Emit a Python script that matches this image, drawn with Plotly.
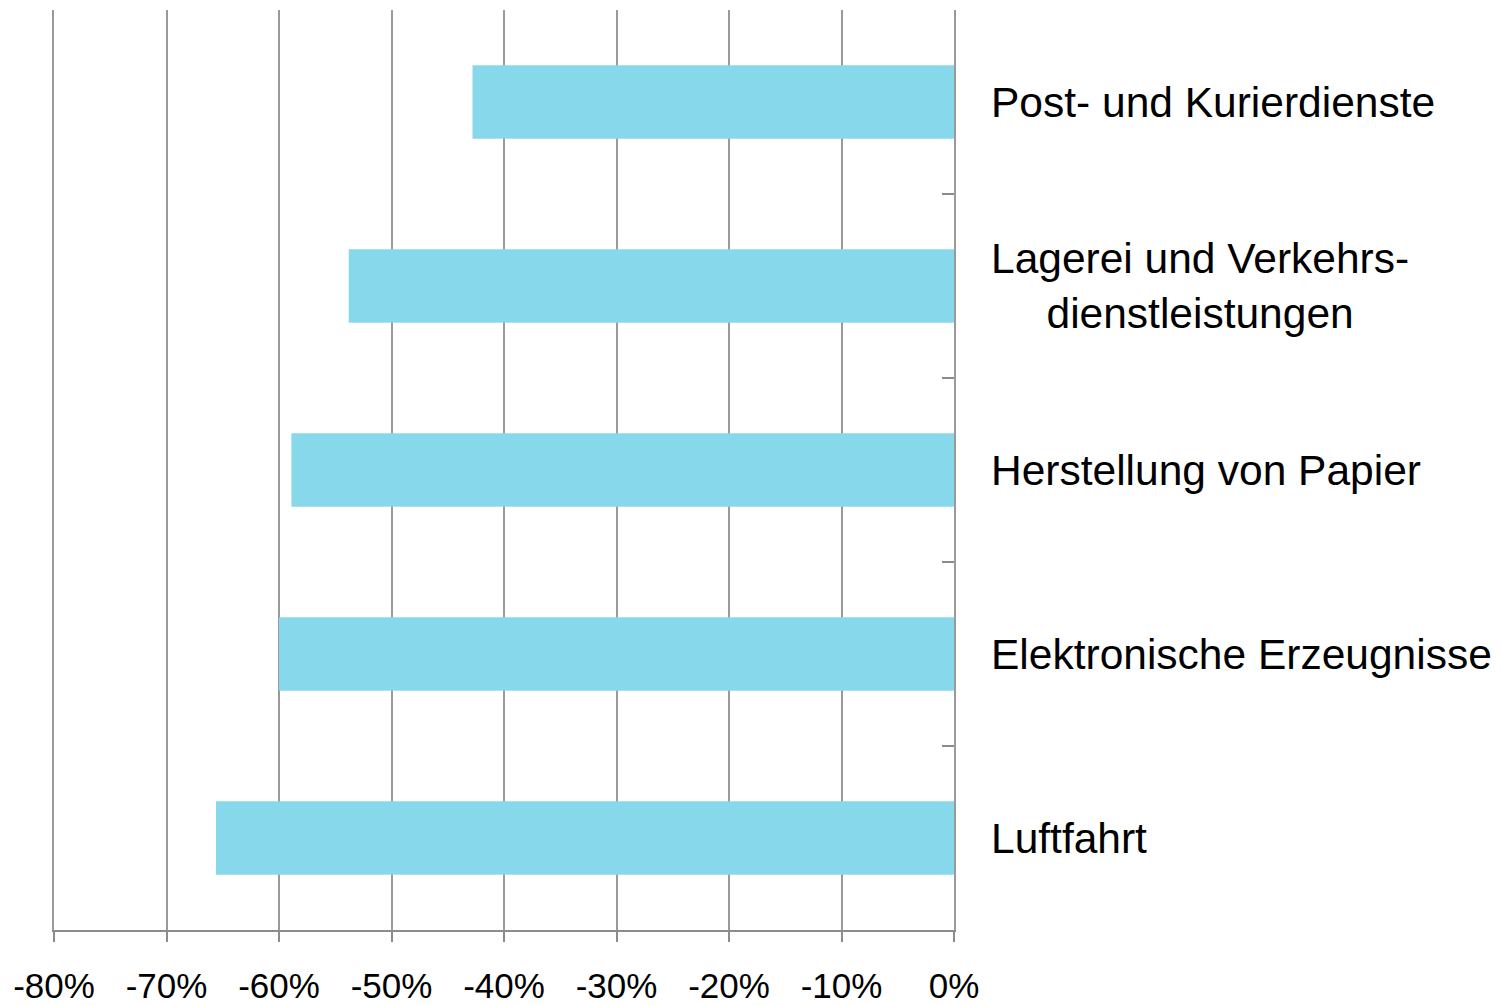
import plotly.graph_objects as go

categories = ["Post- und Kurierdienste", "Lagerei und Verkehrs-<br>dienstleistungen",
              "Herstellung von Papier", "Elektronische Erzeugnisse", "Luftfahrt"]
values = [-42.8, -53.8, -58.9, -60.0, -65.6]
x_ticks = [-80, -70, -60, -50, -40, -30, -20, -10, 0]
x_tick_labels = [f"{v}%" for v in x_ticks]

FONT = "Liberation Sans, Arial, sans-serif"
GRID = "#9a9a9a"
AXIS = "#8c8c8c"

fig = go.Figure(go.Bar(
    x=values, y=list(range(len(categories))), orientation="h",
    marker=dict(color="#88D8EC", line=dict(width=0)),
    width=0.4,
))

annotations = [
    dict(x=1, xref="paper", y=i, yref="y", text=c, showarrow=False,
         xanchor="left", xshift=35, align="center",
         font=dict(family=FONT, size=42.5, color="#000000"))
    for i, c in enumerate(categories)
]

fig.update_layout(
    width=1501, height=1005,
    margin=dict(l=46, r=555, t=2, b=83),
    paper_bgcolor="white", plot_bgcolor="white",
    showlegend=False,
    annotations=annotations,
    xaxis=dict(
        range=[-80, 0], tickvals=x_ticks, ticktext=x_tick_labels,
        showgrid=True, gridcolor=GRID, gridwidth=2,
        showline=True, linecolor=AXIS, linewidth=2,
        ticks="outside", ticklen=10, tickcolor=AXIS, tickwidth=2,
        ticklabelstandoff=14,
        zeroline=False,
        tickfont=dict(family=FONT, size=35, color="#000000"),
    ),
    yaxis=dict(
        range=[4.5, -0.5], side="right",
        tickvals=[-0.5, 0.5, 1.5, 2.5, 3.5, 4.5],
        showticklabels=False, showgrid=False, zeroline=False,
        showline=True, linecolor=GRID, linewidth=2, mirror=True,
        ticks="inside", ticklen=12, tickcolor=AXIS, tickwidth=2,
    ),
)

fig.write_html("out.html")
